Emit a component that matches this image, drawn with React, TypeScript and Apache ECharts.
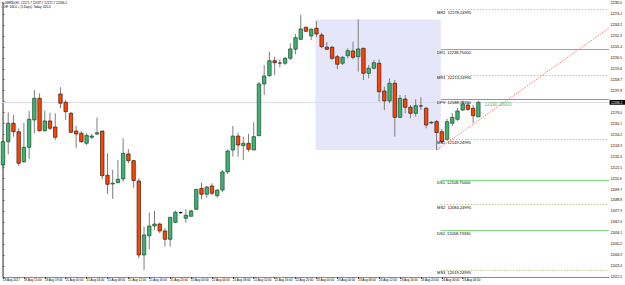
import React, { useEffect, useRef } from 'react';
import * as echarts from 'echarts';

const FONT = 'Liberation Sans';

// Trading sessions (hourly bars) shown on the chart
const sessions = [
  { day: '18 Aug', first: 11, last: 21 },
  { day: '20 Aug', first: 23, last: 23 },
  { day: '21 Aug', first: 0, last: 23 },
  { day: '22 Aug', first: 0, last: 23 },
  { day: '23 Aug', first: 0, last: 23 },
  { day: '24 Aug', first: 0, last: 7 },
];
const firstLabel = '18 Aug 2017';
const futureSlots = 25;

const opens = [
  12123.9, 12147.1, 12165.4, 12157.0, 12127.2, 12141.5, 12168.7, 12190.2, 12158.0, 12167.7,
  12161.7, 12194.5, 12186.3, 12175.3, 12157.7, 12155.4, 12145.5, 12151.5, 12154.7, 12157.7,
  12113.7, 12105.0, 12106.3, 12110.0, 12134.9, 12128.2, 12108.0, 12034.4, 12053.6, 12063.2,
  12065.2, 12058.3, 12050.0, 12066.9, 12075.9, 12070.9, 12072.9, 12079.9, 12100.7, 12094.8,
  12103.0, 12093.4, 12099.0, 12117.0, 12138.8, 12152.7, 12143.1, 12145.5, 12138.8, 12153.0,
  12204.5, 12212.7, 12227.6, 12225.3, 12225.1, 12230.0, 12239.0, 12248.9, 12260.9, 12252.2,
  12259.9, 12253.2, 12241.0, 12241.0, 12231.6, 12225.1, 12232.6, 12237.3, 12231.6, 12240.0,
  12215.1, 12220.1, 12225.1, 12197.5, 12187.6, 12205.2, 12171.3, 12189.5, 12181.3, 12175.3,
  12182.6, 12180.3, 12165.7, 12167.0, 12157.0, 12149.5, 12165.4, 12169.4, 12178.6, 12183.6,
  12180.3, 12171.7,
];
const closes = [
  12147.1, 12165.4, 12157.0, 12125.6, 12141.5, 12169.4, 12190.2, 12158.0, 12167.7, 12160.4,
  12151.5, 12185.3, 12176.9, 12156.4, 12154.7, 12147.1, 12153.4, 12152.7, 12156.0, 12113.3,
  12104.7, 12105.7, 12109.7, 12135.5, 12128.2, 12108.5, 12034.4, 12054.3, 12063.2, 12065.2,
  12058.3, 12050.0, 12071.9, 12076.9, 12076.5, 12073.9, 12078.2, 12099.7, 12094.8, 12102.0,
  12095.8, 12099.0, 12117.0, 12137.8, 12152.7, 12143.8, 12145.5, 12139.5, 12152.1, 12204.5,
  12212.4, 12227.6, 12225.6, 12224.9, 12230.0, 12239.3, 12250.5, 12259.2, 12256.9, 12258.9,
  12254.2, 12241.6, 12239.0, 12230.0, 12224.1, 12231.0, 12237.6, 12231.0, 12239.3, 12215.1,
  12220.1, 12225.6, 12196.8, 12187.6, 12205.2, 12171.3, 12190.2, 12181.3, 12175.3, 12182.9,
  12182.6, 12163.7, 12166.4, 12156.2, 12147.1, 12167.0, 12171.3, 12177.6, 12184.6, 12179.3,
  12172.9, 12186.2,
];
const lows = [
  12118.9, 12134.5, 12152.1, 12122.9, 12125.9, 12129.9, 12155.4, 12157.2, 12157.0, 12158.7,
  12148.8, 12180.3, 12168.7, 12155.7, 12140.5, 12146.1, 12143.8, 12149.5, 12153.7, 12109.7,
  12095.1, 12090.1, 12105.7, 12107.3, 12125.6, 12101.3, 12031.1, 12019.5, 12040.1, 12059.3,
  12056.0, 12042.7, 12042.7, 12065.9, 12075.2, 12066.5, 12072.5, 12079.2, 12089.8, 12091.4,
  12094.1, 12091.4, 12097.1, 12115.0, 12132.2, 12132.2, 12128.9, 12137.1, 12138.8, 12153.0,
  12193.5, 12211.7, 12213.4, 12221.1, 12223.4, 12228.3, 12234.0, 12248.2, 12256.2, 12248.2,
  12250.9, 12240.0, 12238.3, 12228.3, 12219.1, 12223.4, 12230.0, 12229.0, 12216.7, 12208.4,
  12210.1, 12219.1, 12186.9, 12178.6, 12185.3, 12152.1, 12170.4, 12175.3, 12170.4, 12171.9,
  12178.6, 12160.4, 12164.7, 12138.7, 12145.3, 12147.8, 12162.7, 12167.7, 12177.6, 12177.6,
  12165.4, 12171.7,
];
const highs = [
  12150.8, 12176.3, 12173.6, 12160.4, 12166.0, 12177.6, 12198.5, 12195.2, 12177.9, 12175.9,
  12175.3, 12201.2, 12188.6, 12176.6, 12162.7, 12157.7, 12155.4, 12154.7, 12171.0, 12157.7,
  12135.5, 12118.9, 12128.9, 12150.5, 12139.8, 12128.9, 12110.7, 12062.6, 12076.5, 12078.2,
  12066.5, 12061.0, 12071.9, 12078.5, 12077.5, 12079.9, 12079.2, 12099.7, 12106.3, 12103.0,
  12105.7, 12099.7, 12119.0, 12139.3, 12162.7, 12156.0, 12152.1, 12154.7, 12166.4, 12206.7,
  12223.4, 12236.6, 12231.6, 12229.0, 12231.3, 12244.9, 12253.9, 12273.4, 12261.5, 12259.9,
  12267.1, 12255.5, 12246.2, 12242.3, 12233.3, 12232.0, 12240.0, 12246.5, 12268.7, 12240.0,
  12223.4, 12228.3, 12229.0, 12201.8, 12210.1, 12208.4, 12193.5, 12193.5, 12183.6, 12189.2,
  12191.2, 12181.9, 12167.7, 12168.7, 12159.7, 12169.7, 12175.6, 12180.6, 12187.6, 12185.6,
  12183.6, 12187.7,
];

// Price axis
const yMin = 12012.5;
const yMax = 12285.0;
const yStep = 10.9;

// Pivot levels
const pivotNames = ['MR2', 'DR1', 'MR1', 'DPV', 'MS1', 'DS1', 'MS2', 'DS2', 'MS3'];
const pivotValues = [
  12278.24995, 12238.75, 12213.24995, 12188.7333, 12149.24995, 12108.75, 12084.24995, 12058.7333,
  12019.24995,
];
const pivotColors = ['#c8c68c', '#ff7878', '#c8c68c', '#8c8ce8', '#c8c68c', '#80dc80', '#c8c68c', '#80dc80', '#c8c68c'];
const pivotDotted = [true, false, true, false, true, false, true, false, true];

// Previous day box (bar indices of 23 Aug)
const prevDayFirst = 60;
const prevDayLast = 83;

// Trend line anchors: [bar index, price]
const trendAnchorA = [83, 12138.7];
const trendAnchorB = [97, 12190.2];
const trendText = '12190.20000';

const headerSymbol = 'GER30,H1';
const headerAdr = 'ADR: 164.0 + (5 Days), Today: 420.0';

function buildCategories() {
  const out: string[] = [];
  sessions.forEach((s) => {
    for (let h = s.first; h <= s.last; h++) {
      out.push(`${s.day} ${h < 10 ? '0' + h : h}:00`);
    }
  });
  return out;
}

const snap = (v: number) => Math.round(v - 0.5) + 0.5;

export default function App() {
  const ref = useRef<HTMLDivElement>(null);
  useEffect(() => {
    document.body.style.margin = '0';
    const chart = echarts.init(ref.current!, undefined, { renderer: 'svg' });
    const cats = buildCategories();
    const nBars = opens.length;
    const axisCats = cats.concat(new Array(futureSlots).fill(''));
    const lastIdx = axisCats.length - 1;
    const candleData = opens.map((o, i) => [i, o, closes[i], lows[i], highs[i]]);
    const showLabel = (i: number) => i % 4 === 0 && i < nBars;

    const dayHigh = Math.max(...highs.slice(prevDayFirst, prevDayLast + 1));
    const dayLow = Math.min(...lows.slice(prevDayFirst, prevDayLast + 1));
    const lastClose = closes[nBars - 1];

    const option: any = {
      animation: false,
      backgroundColor: '#ffffff',
      textStyle: { fontFamily: FONT },
      grid: { left: 1.5, right: 14.1, top: 3, height: 274 },
      graphic: [
        {
          type: 'text',
          left: 1,
          top: 1,
          style: {
            text: `▼ ${headerSymbol}  ${opens[nBars - 1].toFixed(1)} ${highs[nBars - 1].toFixed(1)} ${lows[nBars - 1].toFixed(1)} ${lastClose.toFixed(1)}`,
            fontSize: 3,
            fontFamily: FONT,
            fill: '#000',
          },
        },
        {
          type: 'text',
          left: 1.5,
          top: 5.6,
          style: { text: headerAdr, fontSize: 3, fontFamily: FONT, fill: '#000' },
        },
      ],
      xAxis: [
        {
          type: 'category',
          data: axisCats,
          boundaryGap: false,
          axisLine: { lineStyle: { color: '#8a8a8a', width: 1 } },
          axisTick: { interval: (i: number) => showLabel(i), length: 2, lineStyle: { color: '#555' } },
          axisLabel: {
            interval: (i: number) => showLabel(i),
            align: 'left',
            fontSize: 3,
            fontFamily: FONT,
            color: '#000',
            margin: 1.5,
            formatter: (v: string, i: number) => (i === 0 ? firstLabel : v),
          },
          splitLine: { show: false },
        },
        { type: 'value', min: 0, max: lastIdx, show: false },
      ],
      yAxis: [
        {
          type: 'value',
          position: 'right',
          min: yMin,
          max: yMax,
          interval: yStep,
          axisLine: { show: true, lineStyle: { color: '#8a8a8a', width: 1 } },
          axisTick: { show: true, length: 1.5, lineStyle: { color: '#555' } },
          axisLabel: {
            fontSize: 3.2,
            fontFamily: FONT,
            color: '#000',
            margin: 1.5,
            showMaxLabel: true,
            formatter: (v: number) => v.toFixed(1),
          },
          splitLine: { show: false },
        },
        {
          type: 'value',
          position: 'left',
          offset: 1,
          min: yMin,
          max: yMax,
          axisLine: { show: true, lineStyle: { color: '#9a9a9a', width: 1 } },
          axisTick: { show: false },
          axisLabel: { show: false },
          splitLine: { show: false },
        },
      ],
      series: [
        {
          type: 'custom',
          name: 'prevDay',
          xAxisIndex: 1,
          yAxisIndex: 0,
          z: 1,
          silent: true,
          data: [[prevDayFirst - 0.2, prevDayLast + 0.8, dayHigh, dayLow]],
          encode: { x: [0, 1], y: [2, 3] },
          renderItem: (_p: any, api: any) => {
            const a = api.coord([api.value(0), api.value(2)]);
            const b = api.coord([api.value(1), api.value(3)]);
            return {
              type: 'rect',
              shape: { x: a[0], y: a[1], width: b[0] - a[0], height: b[1] - a[1] },
              style: { fill: '#e6e6fa' },
            };
          },
        },
        {
          type: 'custom',
          name: 'levelLines',
          xAxisIndex: 1,
          yAxisIndex: 0,
          z: 2,
          silent: true,
          data: pivotValues.map((v, k) => [k, v]),
          encode: { x: 0, y: 1 },
          renderItem: (p: any, api: any) => {
            const k = p.dataIndex;
            const v = pivotValues[k];
            const s = api.coord([prevDayLast + 0.8, v]);
            const e = api.coord([lastIdx, v]);
            const y = snap(s[1]);
            return {
              type: 'line',
              shape: { x1: s[0], y1: y, x2: e[0], y2: y },
              style: pivotDotted[k]
                ? { stroke: pivotColors[k], lineWidth: 1, lineDash: [1.5, 1.5] }
                : { stroke: pivotColors[k], lineWidth: 1 },
            };
          },
        },
        {
          type: 'custom',
          name: 'levelLabels',
          xAxisIndex: 1,
          yAxisIndex: 0,
          z: 5,
          silent: true,
          data: pivotValues.map((v, k) => [k, v]),
          encode: { x: 0, y: 1 },
          renderItem: (p: any, api: any) => {
            const k = p.dataIndex;
            const v = pivotValues[k];
            const t = api.coord([prevDayLast + 0.1, v]);
            return {
              type: 'text',
              style: {
                x: t[0],
                y: t[1] + 0.6,
                text: `${pivotNames[k]}  ${v.toFixed(5)}`,
                fontSize: 4,
                fontFamily: FONT,
                fill: '#000',
                verticalAlign: 'top',
                align: 'left',
              },
            };
          },
        },
        {
          type: 'custom',
          name: 'bid',
          xAxisIndex: 1,
          yAxisIndex: 0,
          z: 2,
          silent: true,
          data: [[0, lastClose]],
          encode: { x: 0, y: 1 },
          renderItem: (_p: any, api: any) => {
            const s = api.coord([0, lastClose]);
            const e = api.coord([lastIdx, lastClose]);
            const y = snap(s[1]);
            return {
              type: 'line',
              shape: { x1: s[0] - 2, y1: y, x2: e[0], y2: y },
              style: { stroke: '#dcdcec', lineWidth: 1 },
            };
          },
        },
        {
          type: 'custom',
          name: 'candles',
          xAxisIndex: 0,
          yAxisIndex: 0,
          z: 3,
          silent: true,
          data: candleData,
          encode: { x: 0, y: [1, 2, 3, 4] },
          renderItem: (_p: any, api: any) => {
            const i = api.value(0);
            const o = api.value(1);
            const c = api.value(2);
            const l = api.value(3);
            const h = api.value(4);
            const pO = api.coord([i, o]);
            const pC = api.coord([i, c]);
            const pL = api.coord([i, l]);
            const pH = api.coord([i, h]);
            const step = api.size([1, 0])[0] || 5.25;
            const w = step * 0.66;
            const x = pO[0];
            const top = Math.min(pO[1], pC[1]);
            const bot = Math.max(pO[1], pC[1]);
            const flat = bot - top < 0.7;
            const up = c > o;
            return {
              type: 'group',
              children: [
                {
                  type: 'line',
                  shape: { x1: x, y1: pH[1], x2: x, y2: pL[1] },
                  style: { stroke: '#7d7d7d', lineWidth: 1 },
                },
                flat
                  ? {
                      type: 'line',
                      shape: { x1: x - w / 2, y1: top, x2: x + w / 2, y2: top },
                      style: { stroke: '#000', lineWidth: 1 },
                    }
                  : {
                      type: 'rect',
                      shape: { x: x - w / 2, y: top, width: w, height: bot - top },
                      style: {
                        fill: up ? '#3cb371' : '#ff4500',
                        stroke: up ? '#1d4a2c' : '#3a1a10',
                        lineWidth: 0.7,
                      },
                    },
              ],
            };
          },
        },
        {
          type: 'custom',
          name: 'trend',
          xAxisIndex: 1,
          yAxisIndex: 0,
          z: 4,
          silent: true,
          data: [trendAnchorA, trendAnchorB],
          encode: { x: 0, y: 1 },
          renderItem: (p: any, api: any) => {
            if (p.dataIndex !== 0) return { type: 'group', children: [] };
            const slope = (trendAnchorB[1] - trendAnchorA[1]) / (trendAnchorB[0] - trendAnchorA[0]);
            const endV = trendAnchorA[1] + slope * (lastIdx - trendAnchorA[0]);
            const a = api.coord(trendAnchorA);
            const b = api.coord([lastIdx, endV]);
            const t = api.coord([nBars + 0.2, lastClose - 2.5]);
            return {
              type: 'group',
              children: [
                {
                  type: 'line',
                  shape: { x1: a[0], y1: a[1], x2: b[0], y2: b[1] },
                  style: { stroke: '#ff7a7a', lineWidth: 1, lineDash: [1.5, 1.2] },
                },
                {
                  type: 'text',
                  style: {
                    x: t[0],
                    y: t[1],
                    text: trendText,
                    fontSize: 4.6,
                    fontFamily: FONT,
                    fill: '#5cb85c',
                    verticalAlign: 'middle',
                    align: 'left',
                  },
                },
              ],
            };
          },
        },
        {
          type: 'custom',
          name: 'priceTag',
          xAxisIndex: 1,
          yAxisIndex: 0,
          z: 6,
          silent: true,
          data: [[lastIdx, lastClose]],
          encode: { x: 0, y: 1 },
          renderItem: (_p: any, api: any) => {
            const e = api.coord([lastIdx, lastClose]);
            return {
              type: 'group',
              children: [
                {
                  type: 'rect',
                  shape: { x: e[0] + 0.6, y: e[1] - 2.4, width: 16, height: 4.8 },
                  style: { fill: '#000' },
                },
                {
                  type: 'text',
                  style: {
                    x: e[0] + 2,
                    y: e[1],
                    text: lastClose.toFixed(1),
                    fontSize: 3.2,
                    fontFamily: FONT,
                    fill: '#fff',
                    verticalAlign: 'middle',
                    align: 'left',
                  },
                },
              ],
            };
          },
        },
      ],
    };
    chart.setOption(option);
    return () => chart.dispose();
  }, []);
  return <div ref={ref} style={{ width: 625, height: 285 }} />;
}
